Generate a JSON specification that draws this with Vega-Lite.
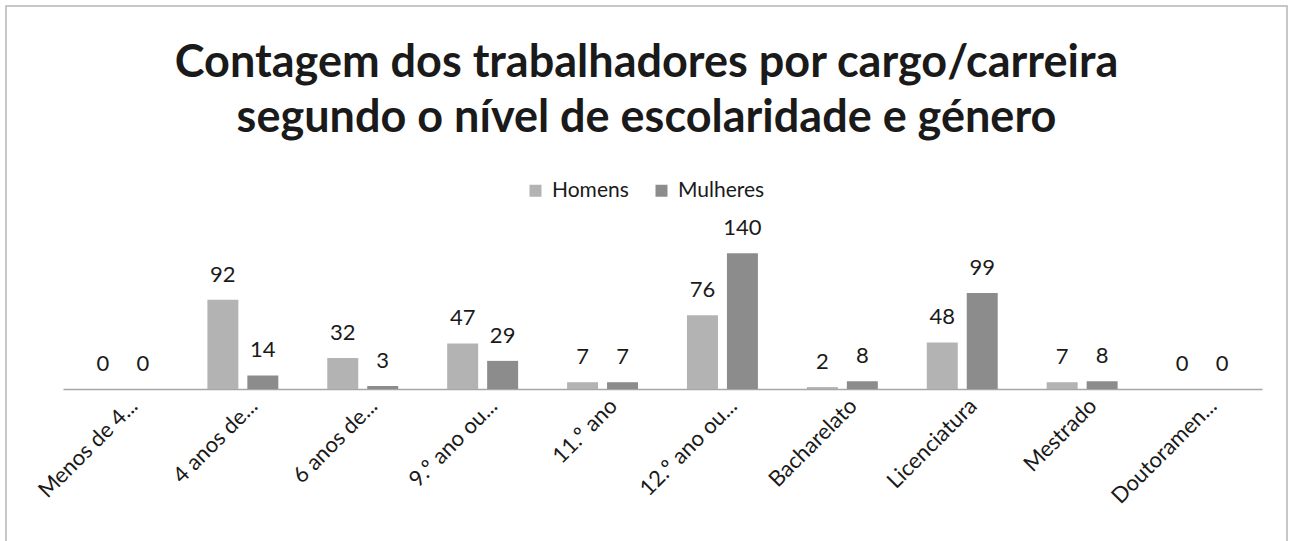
{
  "$schema": "https://vega.github.io/schema/vega-lite/v6.json",
  "width": 1281,
  "height": 540,
  "autosize": {"type": "none"},
  "padding": {"left": 6, "top": 6, "right": 5, "bottom": 0},
  "background": "white",
  "config": {"view": {"stroke": "#b5b5b5", "strokeWidth": 1.5}, "font": "Lato"},
  "title": {
    "text": ["Contagem dos trabalhadores por cargo/carreira", "segundo o nível de escolaridade e género"],
    "fontSize": 45,
    "font": "Lato",
    "fontWeight": "bold",
    "color": "#1a1a1a",
    "anchor": "middle",
    "frame": "group",
    "baseline": "top",
    "offset": -34,
    "dy": 101,
    "lineHeight": 55
  },
  "data": {
    "values": [
      {"nivel": "Menos de 4...", "genero": "Homens", "n": 0},
      {"nivel": "Menos de 4...", "genero": "Mulheres", "n": 0},
      {"nivel": "4 anos de...", "genero": "Homens", "n": 92},
      {"nivel": "4 anos de...", "genero": "Mulheres", "n": 14},
      {"nivel": "6 anos de...", "genero": "Homens", "n": 32},
      {"nivel": "6 anos de...", "genero": "Mulheres", "n": 3},
      {"nivel": "9.º ano ou...", "genero": "Homens", "n": 47},
      {"nivel": "9.º ano ou...", "genero": "Mulheres", "n": 29},
      {"nivel": "11.º ano", "genero": "Homens", "n": 7},
      {"nivel": "11.º ano", "genero": "Mulheres", "n": 7},
      {"nivel": "12.º ano ou...", "genero": "Homens", "n": 76},
      {"nivel": "12.º ano ou...", "genero": "Mulheres", "n": 140},
      {"nivel": "Bacharelato", "genero": "Homens", "n": 2},
      {"nivel": "Bacharelato", "genero": "Mulheres", "n": 8},
      {"nivel": "Licenciatura", "genero": "Homens", "n": 48},
      {"nivel": "Licenciatura", "genero": "Mulheres", "n": 99},
      {"nivel": "Mestrado", "genero": "Homens", "n": 7},
      {"nivel": "Mestrado", "genero": "Mulheres", "n": 8},
      {"nivel": "Doutoramen...", "genero": "Homens", "n": 0},
      {"nivel": "Doutoramen...", "genero": "Mulheres", "n": 0}
    ]
  },
  "encoding": {
    "x": {
      "field": "nivel",
      "type": "nominal",
      "sort": ["Menos de 4...", "4 anos de...", "6 anos de...", "9.º ano ou...", "11.º ano", "12.º ano ou...", "Bacharelato", "Licenciatura", "Mestrado", "Doutoramen..."],
      "scale": {"range": [57, 1256], "paddingInner": 0, "paddingOuter": 0},
      "axis": {
        "title": null,
        "labelAngle": -45,
        "labelFontSize": 22,
        "labelFont": "Lato",
        "labelColor": "#1a1a1a",
        "ticks": false,
        "grid": false,
        "domainColor": "#a6a6a6",
        "domainWidth": 1.5,
        "offset": -157,
        "labelPadding": 6,
        "labelOffset": 4,
        "labelLimit": 0
      }
    },
    "xOffset": {
      "field": "genero",
      "type": "nominal",
      "sort": ["Homens", "Mulheres"],
      "scale": {"paddingInner": 0.225, "paddingOuter": 0.6125}
    },
    "y": {
      "field": "n",
      "type": "quantitative",
      "scale": {"domain": [0, 160], "range": [383, 227.8]},
      "axis": null
    }
  },
  "layer": [
    {
      "mark": {"type": "bar"},
      "encoding": {
        "color": {
          "field": "genero",
          "type": "nominal",
          "sort": ["Homens", "Mulheres"],
          "scale": {"domain": ["Homens", "Mulheres"], "range": ["#b3b3b3", "#8c8c8c"]},
          "legend": {
            "title": null,
            "orient": "none",
            "legendX": 519,
            "legendY": 174,
            "direction": "horizontal",
            "symbolType": "square",
            "symbolSize": 144,
            "symbolStrokeWidth": 0,
            "labelFontSize": 21,
            "labelFont": "Lato",
            "labelColor": "#1a1a1a",
            "columnPadding": 22,
            "labelOffset": 6
          }
        }
      }
    },
    {
      "mark": {"type": "text", "baseline": "alphabetic", "dy": -18, "fontSize": 22, "font": "Lato", "color": "#1a1a1a"},
      "encoding": {"text": {"field": "n", "type": "quantitative"}}
    }
  ]
}
